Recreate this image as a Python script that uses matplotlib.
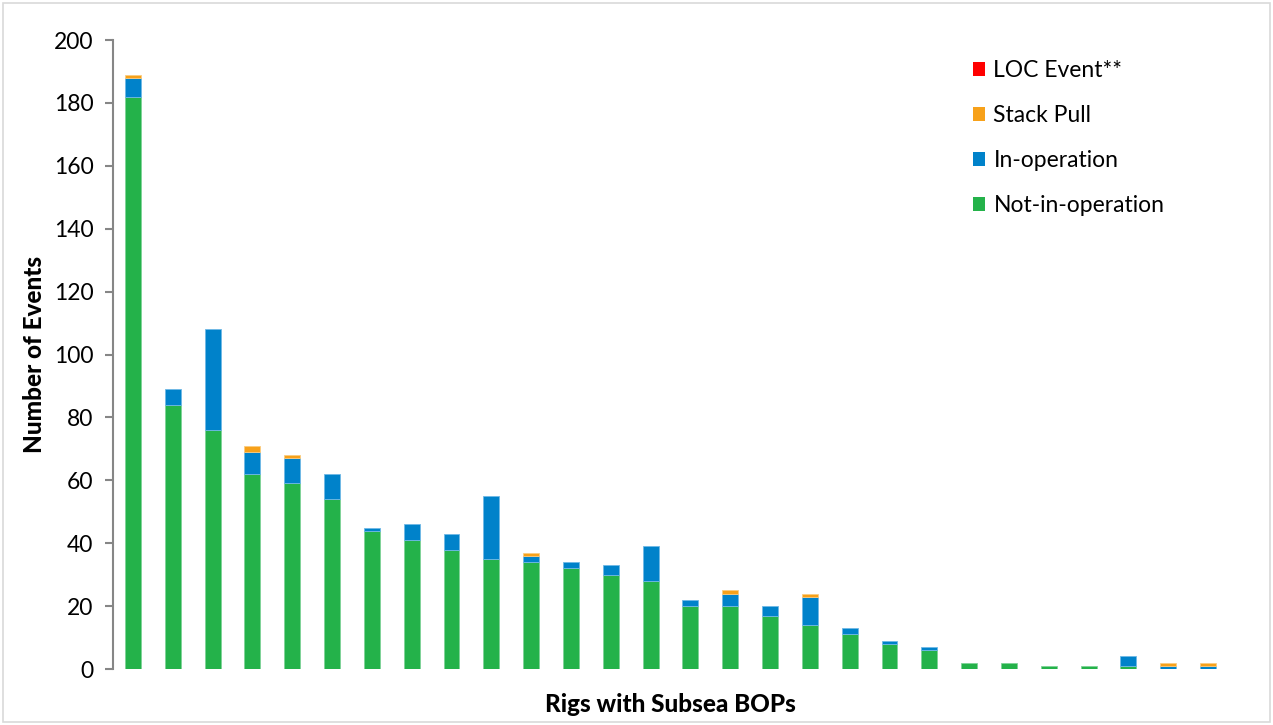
import matplotlib
matplotlib.use("Agg")
import matplotlib.pyplot as plt
import numpy as np
from matplotlib.patches import Rectangle, Patch

plt.rcParams['font.family'] = ['Lato', 'DejaVu Sans']

rigs = [f"Rig {i+1}" for i in range(28)]
not_in_operation = [182, 84, 76, 62, 59, 54, 44, 41, 38, 35, 34, 32, 30, 28,
                    20, 20, 17, 14, 11, 8, 6, 2, 2, 1, 1, 1, 0, 0]
in_operation = [6, 5, 32, 7, 8, 8, 1, 5, 5, 20, 2, 2, 3, 11,
                2, 4, 3, 9, 2, 1, 1, 0, 0, 0, 0, 3, 1, 1]
stack_pull = [1, 0, 0, 2, 1, 0, 0, 0, 0, 0, 1, 0, 0, 0,
              0, 1, 0, 1, 0, 0, 0, 0, 0, 0, 0, 0, 1, 1]
loc_event = [0] * 28

yticks = [0, 20, 40, 60, 80, 100, 120, 140, 160, 180, 200]

c_green = '#24B24A'
c_blue = '#0082CA'
c_orange = '#F7A11A'
c_red = '#FF0000'

fig = plt.figure(figsize=(12.73, 7.25), dpi=100)
ax = fig.add_axes([0.0888, 0.0772, 0.8758, 0.8676])

x = np.arange(len(rigs))
w = 0.4
g = np.array(not_in_operation)
b = np.array(in_operation)
o = np.array(stack_pull)
r = np.array(loc_event)


def lw(v):
    return np.where(v > 0, 0.6, 0.0)


ax.bar(x, g, w, color=c_green, edgecolor='#7fd398', linewidth=lw(g))
ax.bar(x, b, w, bottom=g, color=c_blue, edgecolor='#6fb8e6', linewidth=lw(b))
ax.bar(x, o, w, bottom=g + b, color=c_orange, edgecolor='#fbcc80', linewidth=lw(o))
ax.bar(x, r, w, bottom=g + b + o, color=c_red, linewidth=lw(r))

ax.set_xlim(-0.5, len(rigs) - 0.5)
ax.set_ylim(0, 200)
ax.set_yticks(yticks)
ax.set_yticklabels([str(v) for v in yticks], fontsize=16.5)
ax.set_xticks([])
for s in ['top', 'right', 'bottom']:
    ax.spines[s].set_visible(False)
ax.spines['left'].set_color('#868686')
ax.spines['left'].set_linewidth(1.5)
ax.tick_params(axis='y', direction='out', length=6, width=1.5, color='#868686',
               pad=8, labelcolor='black')

ax.set_ylabel('Number of Events', fontsize=17.5, fontweight='black', labelpad=6)
ax.set_xlabel('Rigs with Subsea BOPs', fontsize=17.5, fontweight='black', labelpad=17)

handles = [Patch(facecolor=c_red, label='LOC Event**'),
           Patch(facecolor=c_orange, label='Stack Pull'),
           Patch(facecolor=c_blue, label='In-operation'),
           Patch(facecolor=c_green, label='Not-in-operation')]
ax.legend(handles=handles, loc='upper left', bbox_to_anchor=(0.757, 0.93),
          bbox_transform=fig.transFigure, frameon=False, fontsize=16.5,
          handlelength=0.55, handleheight=0.55, handletextpad=0.35,
          labelspacing=1.05, borderaxespad=0)

fig.patches.append(Rectangle((0.002, 0.004), 0.996, 0.992, transform=fig.transFigure,
                             fill=False, edgecolor='#d9d9d9', linewidth=1.2))

fig.savefig('out.png', dpi=100)
